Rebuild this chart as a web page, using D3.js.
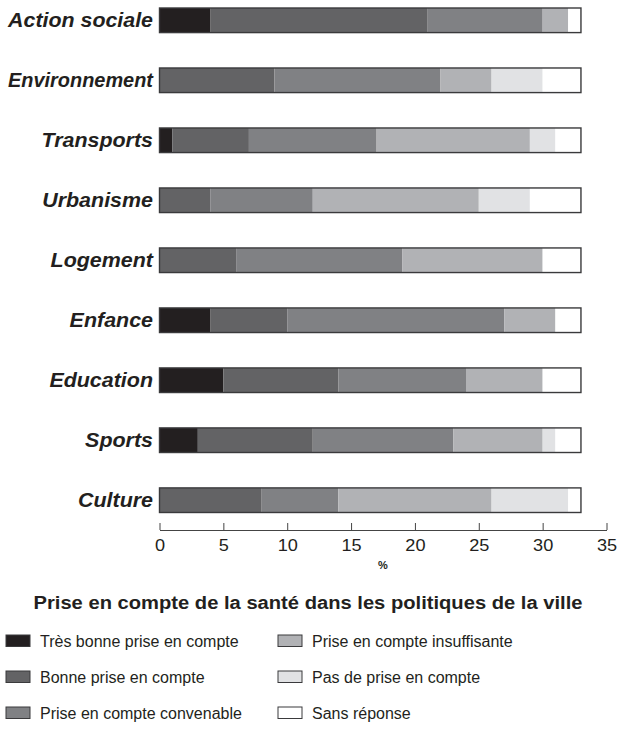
<!DOCTYPE html>
<html>
<head>
<meta charset="utf-8">
<script src="https://cdn.jsdelivr.net/npm/d3@7"></script>
<style>
  body { margin: 0; background: #fff; }
  svg { display: block; font-family: "Liberation Sans", Arial, sans-serif; }
  .cat { font-weight: bold; font-style: italic; font-size: 19.5px; fill: #231f20; }
  .axis text { font-family: "Liberation Sans", Arial, sans-serif; font-size: 16.5px; fill: #231f20; }
  .title { font-weight: bold; font-size: 18.5px; fill: #231f20; }
  .legend text { font-size: 16px; fill: #231f20; }
</style>
</head>
<body>
<div id="chart"></div>
<script>
// categories, top to bottom
const categories = ["Action sociale", "Environnement", "Transports", "Urbanisme",
  "Logement", "Enfance", "Education", "Sports", "Culture"];

// series (number of answers)
const tresBonne     = [4, 0, 1, 0, 0, 4, 5, 3, 0];
const bonne         = [17, 9, 6, 4, 6, 6, 9, 9, 8];
const convenable    = [9, 13, 10, 8, 13, 17, 10, 11, 6];
const insuffisante  = [2, 4, 12, 13, 11, 4, 6, 7, 12];
const pasDePrise    = [0, 4, 2, 4, 0, 0, 0, 1, 6];
const sansReponse   = [1, 3, 2, 4, 3, 2, 3, 2, 1];

const seriesNames = ["Très bonne prise en compte", "Bonne prise en compte",
  "Prise en compte convenable", "Prise en compte insuffisante",
  "Pas de prise en compte", "Sans réponse"];
const seriesColors = ["#231f20", "#636365", "#808184", "#b1b2b5", "#e1e2e4", "#ffffff"];

const xTicks = [0, 5, 10, 15, 20, 25, 30, 35];

////////////////////////////// setup
const width = 617, height = 734;
const svg = d3.select("#chart").append("svg")
  .attr("width", width)
  .attr("height", height);

const x = d3.scaleLinear().domain([0, 35]).range([159.5, 606.5]);
const y = d3.scaleBand()
  .domain(categories)
  .range([8, 512.5])
  .paddingInner(0.59)
  .paddingOuter(0);

const color = d3.scaleOrdinal().domain(seriesNames).range(seriesColors);

// table for the stack
const allSeries = [tresBonne, bonne, convenable, insuffisante, pasDePrise, sansReponse];
const table = categories.map((c, i) => {
  const row = { cat: c };
  seriesNames.forEach((s, j) => (row[s] = allSeries[j][i]));
  return row;
});
const stacked = d3.stack().keys(seriesNames)(table);

////////////////////////////// bars
const layers = svg.append("g")
  .selectAll("g")
  .data(stacked)
  .join("g")
  .attr("fill", (d) => color(d.key));

layers.selectAll("rect")
  .data((d) => d)
  .join("rect")
  .attr("x", (d) => x(d[0]))
  .attr("y", (d) => y(d.data.cat))
  .attr("width", (d) => x(d[1]) - x(d[0]))
  .attr("height", y.bandwidth());

// outline of each bar
svg.append("g")
  .selectAll("rect")
  .data(table)
  .join("rect")
  .attr("x", x(0))
  .attr("y", (d) => y(d.cat))
  .attr("width", (d) => x(d3.sum(seriesNames, (s) => d[s])) - x(0))
  .attr("height", y.bandwidth())
  .attr("fill", "none")
  .attr("stroke", "#3a3a3c")
  .attr("stroke-width", 1.4);

// category labels: stretched a bit like the original, squeezed if too long
const labelRight = 153, labelRoom = 145;
svg.append("g")
  .selectAll("text")
  .data(categories)
  .join("text")
  .attr("class", "cat")
  .attr("dy", "0.36em")
  .attr("text-anchor", "end")
  .text((d) => d)
  .attr("transform", function (d) {
    const w = this.getComputedTextLength();
    const sx = Math.min(1.1, labelRoom / w);
    return `translate(${labelRight},${y(d) + y.bandwidth() / 2}) scale(${sx},1)`;
  });

////////////////////////////// axis
const axis = svg.append("g")
  .attr("class", "axis")
  .attr("transform", "translate(0,530)")
  .call(d3.axisBottom(x).tickValues(xTicks).tickSizeInner(-7).tickSizeOuter(0).tickPadding(9));
axis.attr("font-family", null).attr("font-size", null);
axis.select(".domain").attr("stroke", "#444");
axis.selectAll(".tick line").attr("stroke", "#444");
axis.selectAll(".tick text").attr("transform", "scale(1.1,1)");

svg.append("text")
  .attr("x", x(17.5))
  .attr("y", 569)
  .attr("text-anchor", "middle")
  .attr("font-size", 11)
  .attr("font-weight", "bold")
  .attr("fill", "#231f20")
  .text("%");

////////////////////////////// title
svg.append("text")
  .attr("class", "title")
  .attr("transform", "translate(308,609) scale(1.09,1)")
  .attr("text-anchor", "middle")
  .text("Prise en compte de la santé dans les politiques de la ville");

////////////////////////////// legend
const legend = svg.append("g").attr("class", "legend");
const items = legend.selectAll("g")
  .data(seriesNames)
  .join("g")
  .attr("transform", (d, i) => `translate(${i < 3 ? 6 : 278},${635 + (i % 3) * 36})`);

items.append("rect")
  .attr("width", 24)
  .attr("height", 11.5)
  .attr("fill", (d) => color(d))
  .attr("stroke", "#3a3a3c")
  .attr("stroke-width", 1);

items.append("text")
  .attr("x", 34)
  .attr("y", 6)
  .attr("dy", "0.36em")
  .text((d) => d);
</script>
</body>
</html>
